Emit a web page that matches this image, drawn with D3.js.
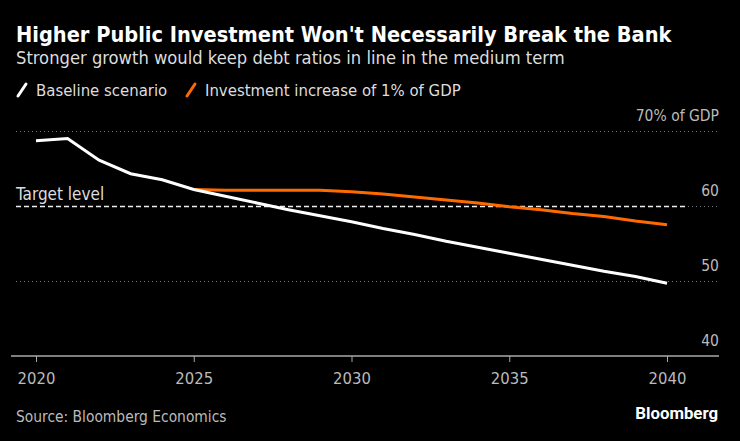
<!DOCTYPE html>
<html>
<head>
  <meta charset="utf-8">
  <title>debt ratios</title>
  <style>
    body {margin:0; background:#000;}
    svg text {font-family: "DejaVu Sans Condensed", "DejaVu Sans", sans-serif; fill:#ccc;}
    .title {font-size:21.6px; font-weight:bold; fill:#fff;}
    .sub {font-size:18.2px; fill:#ddd;}
    .legend {font-size:16.6px; fill:#ddd;}
    .tick {font-size:15.5px; fill:#bbb;}
    .grid {stroke:#777; stroke-width:1; stroke-dasharray:1,3;}
  </style>
</head>
<body>
<script src="https://cdn.jsdelivr.net/npm/d3@7/dist/d3.min.js"></script>
<script>
  var width = 740,
      height = 441;

  // data
  var years    = d3.range(2020, 2041);
  var baseline = [68.7, 69.0, 66.1, 64.3, 63.5, 62.2, 61.3, 60.4, 59.5, 58.7, 57.9,
                  57.0, 56.2, 55.3, 54.5, 53.7, 52.9, 52.1, 51.3, 50.6, 49.7];
  var invYears = d3.range(2025, 2041);
  var invest   = [62.2, 62.1, 62.1, 62.1, 62.1, 61.9, 61.6, 61.2, 60.8, 60.4, 59.9,
                  59.5, 59.0, 58.6, 58.0, 57.5];
  var yTicks   = [40, 50, 60, 70];
  var xTicks   = [2020, 2025, 2030, 2035, 2040];
  var target   = 60;

  var left = 16, right = 719, plotTop = 131, plotBottom = 356;

  var x = d3.scaleLinear().domain([2020, 2040]).range([36, 667]);
  var y = d3.scaleLinear().domain([40, 70]).range([plotBottom, plotTop]);

  var svg = d3.select('body')
    .append('svg')
    .attr('width', width)
    .attr('height', height)
    .style('background', '#000');

  svg.append('text').attr('class', 'title')
    .attr('x', 16).attr('y', 42)
    .text("Higher Public Investment Won't Necessarily Break the Bank");

  svg.append('text').attr('class', 'sub')
    .attr('x', 16).attr('y', 64)
    .text('Stronger growth would keep debt ratios in line in the medium term');

  // legend
  var legend = [
    {label: 'Baseline scenario', color: '#fff', x: 16},
    {label: 'Investment increase of 1% of GDP', color: '#ff6a00', x: 185}
  ];
  var lg = svg.selectAll('g.lg').data(legend).enter().append('g')
    .attr('class', 'lg')
    .attr('transform', function(d){ return 'translate(' + d.x + ',96)'; });
  lg.append('line')
    .attr('x1', 2).attr('y1', 0).attr('x2', 10).attr('y2', -12)
    .style('stroke', function(d){ return d.color; })
    .style('stroke-width', 3)
    .style('stroke-linecap', 'round');
  lg.append('text').attr('class', 'legend')
    .attr('x', 20).attr('y', 0)
    .text(function(d){ return d.label; });

  // gridlines (skip the bottom one, that is the axis)
  svg.selectAll('line.grid')
    .data(yTicks.filter(function(d){ return d > 40; }))
    .enter().append('line')
    .attr('class', 'grid')
    .attr('x1', left).attr('x2', right)
    .attr('y1', function(d){ return y(d) + 0.5; })
    .attr('y2', function(d){ return y(d) + 0.5; });

  svg.selectAll('text.tick.y')
    .data(yTicks)
    .enter().append('text')
    .attr('class', 'tick y')
    .attr('x', right)
    .attr('y', function(d){ return y(d) - 10; })
    .attr('text-anchor', 'end')
    .text(function(d){ return d === 70 ? '70% of GDP' : d; });

  // target level
  svg.append('line')
    .attr('x1', left).attr('x2', 686)
    .attr('y1', y(target) + 0.5).attr('y2', y(target) + 0.5)
    .style('stroke', '#eee')
    .style('stroke-width', 1.5)
    .style('stroke-dasharray', '5,3');
  svg.append('text').attr('class', 'tick')
    .attr('x', left).attr('y', y(target) - 6)
    .style('fill', '#ddd')
    .style('font-size', '17px')
    .text('Target level');

  // x axis
  var xAxis = svg.append('g')
    .attr('transform', 'translate(0,' + plotBottom + ')')
    .call(d3.axisBottom(x).tickValues(xTicks).tickFormat(d3.format('d')).tickSize(6).tickPadding(10));
  xAxis.select('.domain').remove();
  xAxis.append('line')
    .attr('x1', 11).attr('x2', right)
    .style('stroke', '#aaa').style('stroke-width', 1.5);
  xAxis.selectAll('.tick line').style('stroke', '#aaa');
  xAxis.selectAll('.tick text')
    .attr('class', 'tick')
    .style('font-family', '"DejaVu Sans Condensed", sans-serif')
    .style('font-size', '16.5px')
    .style('fill', '#bbb');

  var line = d3.line()
    .x(function(d){ return x(d[0]); })
    .y(function(d){ return y(d[1]); });

  svg.append('path')
    .datum(d3.zip(invYears, invest))
    .attr('d', line)
    .style('fill', 'none')
    .style('stroke', '#ff6a00')
    .style('stroke-width', 3);

  svg.append('path')
    .datum(d3.zip(years, baseline))
    .attr('d', line)
    .style('fill', 'none')
    .style('stroke', '#fff')
    .style('stroke-width', 3);

  svg.append('text')
    .attr('x', 16).attr('y', 422)
    .style('font-size', '15.4px')
    .style('fill', '#bbb')
    .text('Source: Bloomberg Economics');

  svg.append('text')
    .attr('x', 718).attr('y', 419)
    .attr('text-anchor', 'end')
    .style('font-family', 'Roboto, sans-serif')
    .style('font-weight', 'bold')
    .style('font-size', '16.8px')
    .style('fill', '#fff')
    .text('Bloomberg');
</script>
</body>
</html>
